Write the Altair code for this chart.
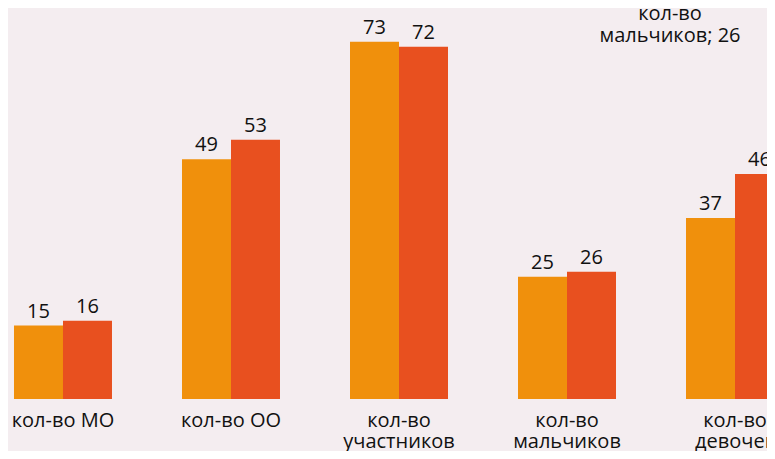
import altair as alt
import pandas as pd

categories = ["кол-во МО", "кол-во ОО", "кол-во участников", "кол-во мальчиков", "кол-во девочек"]
series_names = ["Ряд 1", "Ряд 2"]
series1 = [15, 49, 73, 25, 37]
series2 = [16, 53, 72, 26, 46]
colors = ["#F0900C", "#E8501F"]

rows = []
for c, a, b in zip(categories, series1, series2):
    rows.append({"cat": c, "series": series_names[0], "value": a})
    rows.append({"cat": c, "series": series_names[1], "value": b})
df = pd.DataFrame(rows)

FONT = "Open Sans"
TXT = "#111111"

x_enc = alt.X(
    "cat:N",
    sort=categories,
    scale=alt.Scale(range=[-29, 811], paddingInner=0.4167, paddingOuter=0.2083),
    axis=alt.Axis(
        title=None, domain=False, ticks=False, grid=False,
        labelAngle=0, labelFont=FONT, labelFontSize=20, labelColor=TXT,
        labelPadding=27, labelLineHeight=21, labelBaseline="alphabetic",
        labelOverlap=False, labelBound=False, labelFlush=False,
        labelExpr="length(datum.label) > 10 ? split(datum.label, ' ') : datum.label",
    ),
)
y_enc = alt.Y("value:Q", scale=alt.Scale(domain=[0, 79.9], nice=False, zero=True), axis=None)
xoff = alt.XOffset("series:N", sort=series_names, scale=alt.Scale(paddingInner=0, paddingOuter=0))
color = alt.Color("series:N", scale=alt.Scale(domain=series_names, range=colors), legend=None)

base = alt.Chart(df)
bars = base.mark_bar(cornerRadius=0).encode(x=x_enc, xOffset=xoff, y=y_enc, color=color)
labels = base.mark_text(dy=-8, baseline="alphabetic", font=FONT, fontSize=20, color=TXT).encode(
    x=x_enc, xOffset=xoff, y=y_enc, text="value:Q"
)

note_text = categories[3].replace(" ", "\n") + "; " + str(series2[3])
note = alt.Chart(pd.DataFrame({"t": [note_text]})).mark_text(
    font=FONT, fontSize=20, color=TXT, baseline="alphabetic", lineBreak="\n", lineHeight=22
).encode(x=alt.value(662), y=alt.value(12), text="t:N")

chart = (
    alt.layer(bars, labels, note)
    .properties(
        width=759, height=391,
        autosize=alt.AutoSizeParams(type="none"),
        padding={"left": 0, "top": 0, "right": 0, "bottom": 52},
        background="#f4edf0",
    )
    .configure_view(stroke=None)
)

chart.save("out.html", embed_options={"renderer": "svg", "actions": False})
